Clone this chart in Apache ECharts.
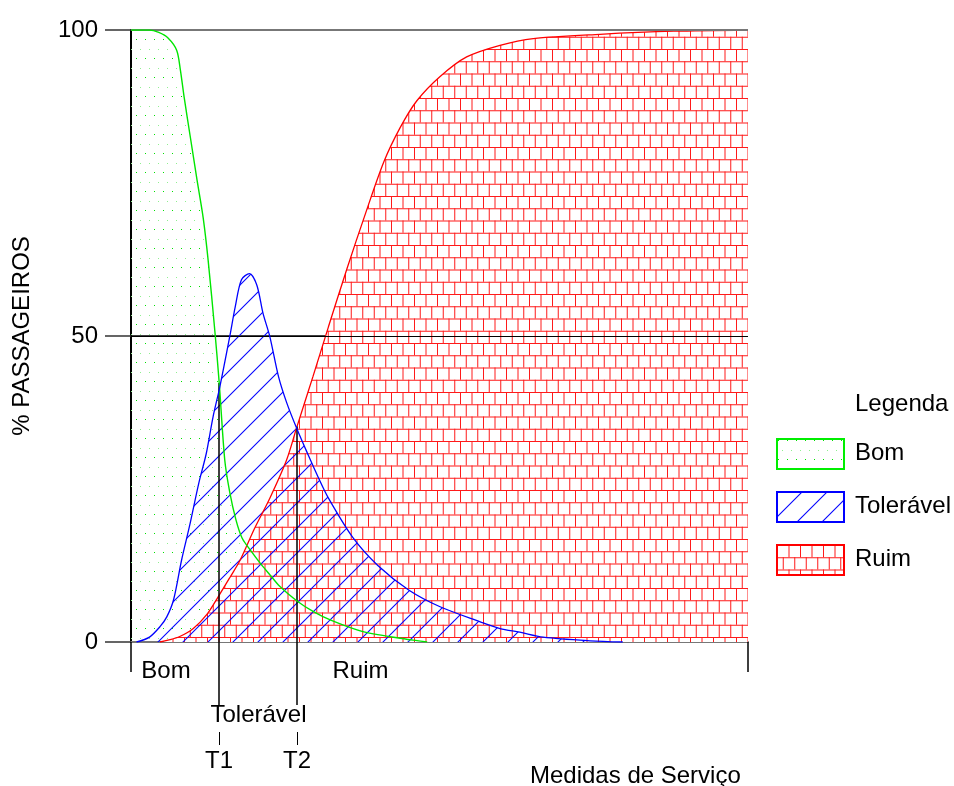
<!DOCTYPE html>
<html>
<head>
<meta charset="utf-8">
<script src="https://cdn.jsdelivr.net/npm/echarts@6/dist/echarts.min.js"></script>
<style>html,body{margin:0;padding:0;background:#fff}#c{width:954px;height:786px}</style>
</head>
<body>
<div id="c"></div>
<script>
// ---- data (x = Medidas de Serviço, 0..100 ; y = % passageiros) ----
const bomCurve = [[0,100],[3,100],[4.5,99.6],[6,98.7],[7.4,96.7],[8,93.5],[8.6,89.1],[9.6,82.6],[10.7,75.5],[11.7,69.3],[12.5,62.4],[13.6,50.7],[14.3,42.3],[15.2,29.7],[16,24.5],[17,20],[18,17],[19.5,14.8],[21,12.8],[22.5,11],[24.1,9.1],[26.9,6.7],[29.5,5],[32.3,3.6],[37.6,1.7],[45.7,0.3],[48,0]];
const toleravelCurve = [[0.9,0],[3,0.8],[4.7,2.5],[5.8,4.1],[6.9,6.9],[8.2,13.4],[9.5,19],[11,26],[12.2,30.8],[13.3,36.8],[14.4,41.7],[16,49.9],[16.9,54.8],[17.9,59.2],[19.2,60.2],[20.4,58.3],[21.4,53.7],[22.5,49.9],[23.9,43.4],[25.2,39.2],[26.9,34.8],[28.7,30.6],[30.3,27],[32,23.5],[36,17],[40,12.5],[45,8.5],[50,5.8],[56.6,3.3],[59.8,2.2],[63,1.6],[66.8,0.8],[74.4,0.2],[79.7,0]];
const ruimCurve = [[4.7,0],[6,0.3],[7.9,0.9],[10.1,2.2],[12.3,4.5],[14.2,7.5],[16,10.5],[17.7,13.4],[20,18.5],[22.5,23.5],[25.2,29.7],[26.9,35.2],[29.5,43.4],[32,51.5],[35,61],[38,70],[41,78.5],[43.6,84],[46.3,88.4],[50.1,92.4],[54.4,95.6],[59.8,97.5],[65.2,98.6],[76,99.3],[88,99.8],[100,100]];
const yTicks = [0, 50, 100];
const thresholdPos = [14.26, 26.9];          // T1, T2
const thresholdCross = [42.3, 35.2];         // curve intersections at T1, T2
const thresholdNames = ['T1', 'T2'];
const zoneNames = ['Bom', 'Tolerável', 'Ruim'];
const zonePos = [5.67, 20.66, 37.2];
const legendNames = ['Bom', 'Tolerável', 'Ruim'];

// ---- fill patterns ----
function makeCanvas(w, h, draw) { const c = document.createElement('canvas'); c.width = w; c.height = h; draw(c.getContext('2d')); return c; }
const dotCanvas = makeCanvas(9, 19, ctx => {
  ctx.fillStyle = '#00e000'; ctx.fillRect(1, 1, 1, 1);
  ctx.fillStyle = '#8fef8f'; ctx.fillRect(5, 11, 1, 1);
});
const hatchCanvas = makeCanvas(25, 25, ctx => {
  ctx.strokeStyle = '#0000ff'; ctx.lineWidth = 1.1;
  for (const off of [-25, 0, 25]) { ctx.beginPath(); ctx.moveTo(off - 2, 27); ctx.lineTo(off + 27, -2); ctx.stroke(); }
});
const brickCanvas = makeCanvas(46, 49, ctx => {
  ctx.fillStyle = '#ffffff'; ctx.fillRect(0, 0, 46, 49);
  ctx.strokeStyle = '#ff1a1a'; ctx.lineWidth = 1;
  const rh = 12.25, bw = 11.5;
  for (let r = 0; r < 4; r++) {
    const y0 = r * rh;
    ctx.beginPath(); ctx.moveTo(0, y0 + 0.5); ctx.lineTo(46, y0 + 0.5); ctx.stroke();
    const off = (r % 2) * bw / 2;
    for (let x = off; x < 46; x += bw) { ctx.beginPath(); ctx.moveTo(x + 0.5, y0); ctx.lineTo(x + 0.5, y0 + rh); ctx.stroke(); }
  }
});
const dotPat = { image: dotCanvas, repeat: 'repeat' };
const hatchPat = { image: hatchCanvas, repeat: 'repeat' };
const brickPat = { image: brickCanvas, repeat: 'repeat' };

const FONT = "'Liberation Sans', Arial, sans-serif";
const FS = 24;
function nearestName(v, pos, names) { let bi = 0; pos.forEach((p, i) => { if (Math.abs(p - v) < Math.abs(pos[bi] - v)) bi = i; }); return names[bi]; }

const chart = echarts.init(document.getElementById('c'), null, { renderer: 'canvas' });
const legendBoxes = [
  { top: 438, stroke: '#00ee00', fill: dotPat },
  { top: 491, stroke: '#0000ff', fill: hatchPat },
  { top: 544, stroke: '#ff0000', fill: brickPat }
];
const graphics = [{ type: 'text', left: 855, top: 392, style: { text: 'Legenda', fontSize: FS, fontFamily: FONT, fill: '#000' } }];
legendBoxes.forEach((b, i) => {
  graphics.push({ type: 'rect', left: 776, top: b.top, shape: { width: 67, height: 30 }, style: { fill: b.fill, stroke: b.stroke, lineWidth: 2 } });
  graphics.push({ type: 'text', left: 855, top: b.top + 3, style: { text: legendNames[i], fontSize: FS, fontFamily: FONT, fill: '#000' } });
});

const SMOOTH = 0.3;
const baseX = { type: 'value', min: 0, max: 100, gridIndex: 0, position: 'bottom', splitLine: { show: false } };
chart.setOption({
  animation: false,
  backgroundColor: '#fff',
  textStyle: { fontFamily: FONT },
  title: { text: 'Medidas de Serviço', left: 525, top: 759, textStyle: { fontSize: FS, fontWeight: 'normal', fontFamily: FONT, color: '#000' } },
  grid: { left: 131, right: 206, top: 30, bottom: 144, containLabel: false, outerBoundsMode: 'none' },
  xAxis: [
    Object.assign({}, baseX, {
      axisLine: { show: true, lineStyle: { color: '#777', width: 2 } },
      axisTick: { show: true, customValues: [0, 100], length: 30, lineStyle: { color: '#000', width: 1.5 } },
      axisLabel: { show: true, customValues: [zonePos[0], zonePos[2]], margin: 17, fontSize: FS, fontFamily: FONT, color: '#000',
        formatter: v => nearestName(v, zonePos, zoneNames) }
    }),
    Object.assign({}, baseX, {
      axisLine: { show: false },
      axisTick: { show: true, customValues: thresholdPos, length: 63, lineStyle: { color: '#000', width: 1.5 } },
      axisLabel: { show: true, customValues: [zonePos[1]], margin: 61, fontSize: FS, fontFamily: FONT, color: '#000',
        formatter: v => nearestName(v, zonePos, zoneNames) }
    }),
    Object.assign({}, baseX, {
      offset: 90,
      axisLine: { show: false },
      axisTick: { show: true, customValues: thresholdPos, length: 13, lineStyle: { color: '#000', width: 1 } },
      axisLabel: { show: true, customValues: thresholdPos, margin: 17, fontSize: FS, fontFamily: FONT, color: '#000',
        formatter: v => nearestName(v, thresholdPos, thresholdNames) }
    })
  ],
  yAxis: [
    { type: 'value', min: yTicks[0], max: yTicks[2], interval: yTicks[1] - yTicks[0], position: 'left',
      name: '% PASSAGEIROS', nameLocation: 'middle', nameGap: 97, nameRotate: 90,
      nameTextStyle: { fontSize: FS, fontFamily: FONT, color: '#000' },
      axisLine: { show: true, lineStyle: { color: '#000', width: 1.5 } },
      axisTick: { show: true, length: 26, lineStyle: { color: '#333', width: 1.5 } },
      axisLabel: { margin: 33, fontSize: FS, fontFamily: FONT, color: '#000' },
      splitLine: { show: true, lineStyle: { color: ['#777', '#000', '#777'], width: 1.5 } } },
    { type: 'value', min: 0, max: 100, position: 'right',
      axisLine: { show: true, lineStyle: { color: '#000', width: 2 } },
      axisTick: { show: false }, axisLabel: { show: false }, splitLine: { show: false } }
  ],
  graphic: graphics,
  series: [
    { name: 'Bom-area', type: 'line', data: bomCurve, smooth: SMOOTH, symbol: 'none', z: 1,
      lineStyle: { width: 0, opacity: 0 }, areaStyle: { color: dotPat, opacity: 1 } },
    { name: 'Ruim-area', type: 'line', data: ruimCurve, smooth: SMOOTH, symbol: 'none', z: 2,
      lineStyle: { width: 0, opacity: 0 }, areaStyle: { color: brickPat, opacity: 1 } },
    { name: 'Toleravel-area', type: 'line', data: toleravelCurve, smooth: SMOOTH, symbol: 'none', z: 3,
      lineStyle: { width: 0, opacity: 0 }, areaStyle: { color: hatchPat, opacity: 1 } },
    { name: 'Ruim', type: 'line', data: ruimCurve, smooth: SMOOTH, symbol: 'none', z: 4,
      lineStyle: { color: '#ff0000', width: 1.3 },
      markLine: { silent: true, symbol: ['none', 'none'], label: { show: false },
        lineStyle: { color: '#000', type: 'solid', width: 1.2 },
        data: [{ yAxis: yTicks[1] }, { yAxis: yTicks[2], lineStyle: { color: '#777', width: 2 } }] } },
    { name: 'Bom', type: 'line', data: bomCurve, smooth: SMOOTH, symbol: 'none', z: 5,
      lineStyle: { color: '#00e600', width: 1.4 },
      markLine: { silent: true, symbol: ['none', 'none'], label: { show: false },
        lineStyle: { color: '#000', type: 'solid', width: 1.5 },
        data: thresholdPos.map((p, i) => [{ coord: [p, thresholdCross[i]] }, { coord: [p, 0] }]) } },
    { name: 'Tolerável', type: 'line', data: toleravelCurve, smooth: SMOOTH, symbol: 'none', z: 6,
      lineStyle: { color: '#0000ff', width: 1.3 } }
  ]
});
</script>
</body>
</html>
